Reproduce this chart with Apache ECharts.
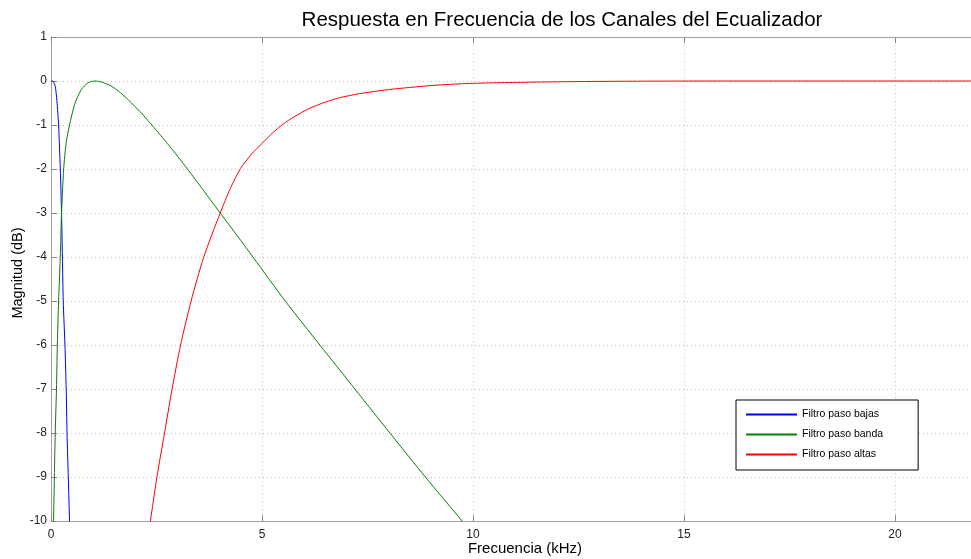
<!DOCTYPE html>
<html>
<head>
<meta charset="utf-8">
<script src="https://cdn.jsdelivr.net/npm/echarts@6/dist/echarts.min.js"></script>
<style>
html,body{margin:0;padding:0;background:#fff;}
#chart{width:971px;height:559px;}
</style>
</head>
<body>
<div id="chart"></div>
<script>
// Values (frequency in kHz, magnitude in dB)
var lowpassFreq = [0, 0.05, 0.10, 0.14, 0.18, 0.22, 0.25, 0.27, 0.29, 0.33, 0.36, 0.38, 0.41, 0.44, 0.46];
var lowpassDb   = [0, -0.01, -0.12, -0.45, -1, -2, -3, -4, -5, -6, -7, -8, -9, -10, -10.6];

var bandpassFreq = [0.04, 0.06, 0.08, 0.10, 0.13, 0.15, 0.18, 0.22, 0.25, 0.30, 0.36, 0.44, 0.56, 0.72, 0.88, 1.04,
                    1.20, 1.40, 1.60, 1.80, 2.00, 2.20, 2.39, 2.60, 2.80, 3.00, 3.25, 3.53, 4.01, 4.40, 4.80,
                    5.55, 6.37, 7.20, 8.03, 8.87, 9.74, 9.90];
var bandpassDb   = [-11, -10, -9, -8, -7, -6, -5, -4, -3, -2, -1.4, -1, -0.53, -0.19, -0.04, 0,
                    -0.025, -0.10, -0.23, -0.40, -0.59, -0.79, -1.00, -1.24, -1.47, -1.71, -2.02, -2.38, -3.00, -3.50, -4.02,
                    -5, -6, -7, -8, -9, -10, -10.2];

var highpassFreq = [2.30, 2.355, 2.51, 2.69, 2.87, 3.07, 3.32, 3.62, 4.01, 4.25, 4.49, 4.75, 5.00, 5.25, 5.50, 5.75,
                    6.13, 6.50, 6.84, 7.30, 7.79, 8.25, 8.74, 9.20, 9.69, 10.3, 11, 12, 13, 14, 15, 16, 22];
var highpassDb   = [-10.3, -10, -9, -8, -7, -6, -5, -4, -3, -2.44, -1.99, -1.66, -1.42, -1.18, -0.98, -0.82,
                    -0.62, -0.48, -0.38, -0.29, -0.22, -0.17, -0.125, -0.09, -0.065, -0.045, -0.032, -0.018, -0.009, -0.004, -0.001, 0, 0];

var seriesNames = ['Filtro paso bajas', 'Filtro paso banda', 'Filtro paso altas'];
var titleText = 'Respuesta en Frecuencia de los Canales del Ecualizador';
var xLabelText = 'Frecuencia (kHz)';
var yLabelText = 'Magnitud (dB)';

function pairs(xs, ys) { return xs.map(function (x, i) { return [x, ys[i]]; }); }

var FONT = 'Liberation Sans, Arial, sans-serif';
var AXIS_COLOR = '#a0a0a0';
var chart = echarts.init(document.getElementById('chart'), null, {renderer: 'canvas'});

var option = {
  backgroundColor: '#ffffff',
  animation: false,
  grid: {left: 51, right: 0, top: 37, bottom: 38, containLabel: false, outerBoundsMode: 'none'},
  legend: {
    orient: 'vertical',
    left: 736, top: 400,
    padding: [9, 35, 10, 10],
    itemGap: 9,
    itemWidth: 51, itemHeight: 2,
    icon: 'rect',
    backgroundColor: '#ffffff',
    borderColor: '#000000',
    borderWidth: 1,
    borderRadius: 0,
    textStyle: {fontFamily: FONT, fontSize: 10.5, color: '#000'},
    data: seriesNames
  },
  xAxis: [{
    type: 'value', min: 0, max: 21.8, interval: 5, position: 'bottom',
    axisLine: {show: true, onZero: false, lineStyle: {color: AXIS_COLOR, width: 1}},
    axisTick: {show: true, inside: true, length: 6, lineStyle: {color: '#888'}},
    axisLabel: {fontFamily: FONT, fontSize: 12, color: '#222', margin: 8,
      showMaxLabel: false},
    splitLine: {show: true, lineStyle: {color: '#c4c4c4', type: [1, 3], width: 1}}
  }, {
    type: 'value', min: 0, max: 21.8, interval: 5, position: 'top',
    axisLine: {show: true, onZero: false, lineStyle: {color: AXIS_COLOR, width: 1}},
    axisTick: {show: true, inside: true, length: 6, lineStyle: {color: '#888'}},
    axisLabel: {show: false},
    splitLine: {show: false}
  }],
  yAxis: [{
    type: 'value', min: -10, max: 1, interval: 1,
    axisLine: {show: true, onZero: false, lineStyle: {color: AXIS_COLOR, width: 1}},
    axisTick: {show: true, inside: true, length: 6, lineStyle: {color: '#888'}},
    axisLabel: {fontFamily: FONT, fontSize: 12, color: '#222', margin: 4},
    splitLine: {show: true, lineStyle: {color: '#c4c4c4', type: [1, 3], width: 1}}
  }],
  graphic: [
    {type: 'text', x: 562, y: 20, silent: true,
     style: {text: titleText, fontFamily: FONT, fontSize: 20.5, fill: '#000',
             textAlign: 'center', textVerticalAlign: 'middle'}},
    {type: 'text', x: 525, y: 549, silent: true,
     style: {text: xLabelText, fontFamily: FONT, fontSize: 15, fill: '#000',
             textAlign: 'center', textVerticalAlign: 'middle'}},
    {type: 'text', x: 18, y: 273, rotation: Math.PI / 2, silent: true,
     style: {text: yLabelText, fontFamily: FONT, fontSize: 14.5, fill: '#000',
             textAlign: 'center', textVerticalAlign: 'middle'}}
  ],
  series: [
    {name: seriesNames[0], type: 'line', data: pairs(lowpassFreq, lowpassDb),
     showSymbol: false, smooth: 0.25, clip: true,
     color: '#0000ff', lineStyle: {color: '#0000ff', width: 1}},
    {name: seriesNames[1], type: 'line', data: pairs(bandpassFreq, bandpassDb),
     showSymbol: false, smooth: 0.25, clip: true,
     color: '#008000', lineStyle: {color: '#008000', width: 1}},
    {name: seriesNames[2], type: 'line', data: pairs(highpassFreq, highpassDb),
     showSymbol: false, smooth: 0.25, clip: true,
     color: '#ff0000', lineStyle: {color: '#ff0000', width: 1}}
  ]
};
chart.setOption(option);
</script>
</body>
</html>
